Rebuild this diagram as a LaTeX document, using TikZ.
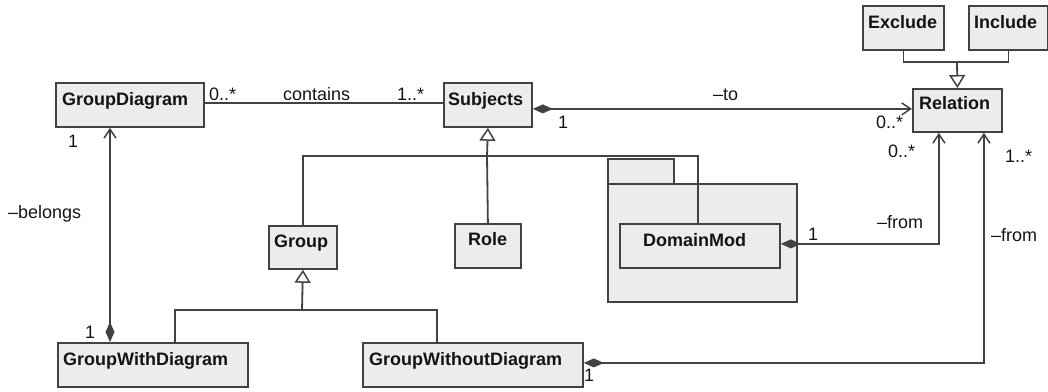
\documentclass[tikz,border=0pt]{standalone}
\usepackage{fontspec}
\setmainfont{Liberation Sans}
\usetikzlibrary{arrows.meta}
\definecolor{umlline}{RGB}{66,66,66}
\definecolor{umlfill}{RGB}{236,236,236}
\definecolor{umltext}{RGB}{20,20,20}
\begin{document}
\begin{tikzpicture}[x=1pt,y=-1pt,
  font=\fontsize{18}{20}\selectfont,
  box/.style={draw=umlline, fill=umlfill, line width=1.8pt, inner sep=0pt, anchor=north west},
  cname/.style={anchor=base west, inner sep=0pt, font=\fontsize{18}{20}\selectfont\bfseries, text=umltext},
  lbl/.style={anchor=base west, inner sep=0pt, text=umltext},
  conn/.style={draw=umlline, line width=1.8pt},
  generalize/.style={conn, -{Triangle[length=13pt,width=16pt,fill=white,line width=1.5pt]}},
  compose/.style={conn, {Diamond[length=20pt,width=9pt,fill=umlline]}-{Straight Barb[length=9pt,width=12pt,line width=1.5pt]}},
]
\useasboundingbox (0,0) rectangle (1048,391);

% package holding DomainMod
\node[box, minimum width=66pt, minimum height=25pt] (pkgtab) at (607,158) {};
\node[box, minimum width=189pt, minimum height=118pt] (pkg) at (607,183) {};

% classes
\node[box, minimum width=148pt, minimum height=44pt] (gd) at (55,82) {};
\node[cname] (gd-t) at (62,105) {GroupDiagram};
\node[box, minimum width=88pt, minimum height=44pt] (subj) at (443,82) {};
\node[cname] (subj-t) at (448,105) {Subjects};
\node[box, minimum width=89pt, minimum height=43pt] (rel) at (912,88) {};
\node[cname] (rel-t) at (919,109) {Relation};
\node[box, minimum width=81pt, minimum height=44pt] (excl) at (862,5) {};
\node[cname] (excl-t) at (868,28) {Exclude};
\node[box, minimum width=79pt, minimum height=44pt] (incl) at (968,5) {};
\node[cname] (incl-t) at (974,28) {Include};
\node[box, minimum width=68pt, minimum height=43pt] (grp) at (268,225) {};
\node[cname] (grp-t) at (274,247) {Group};
\node[box, minimum width=66pt, minimum height=44pt] (role) at (454,223) {};
\node[cname] (role-t) at (468,245) {Role};
\node[box, minimum width=160pt, minimum height=44pt] (dmod) at (619,223) {};
\node[cname] (dmod-t) at (643,246) {DomainMod};
\node[box, minimum width=190pt, minimum height=44pt] (gwd) at (57,342) {};
\node[cname] (gwd-t) at (63,365) {GroupWithDiagram};
\node[box, minimum width=220pt, minimum height=44pt] (gwod) at (362,342) {};
\node[cname] (gwod-t) at (369,365) {GroupWithoutDiagram};

% junction points of the generalization trees
\coordinate (ssplit) at (487,156);
\coordinate (gsplit) at (302,310);
\coordinate (rsplit) at (957,62);

% generalizations
\draw[conn] (grp.north) |- (ssplit) -| ([xshift=-2pt]dmod.north);
\draw[conn] (role.north) -- (ssplit);
\draw[generalize] (ssplit) -- (subj.south);
\draw[conn] ([xshift=118pt]gwd.north west) |- (gsplit) -| ([xshift=75pt]gwod.north west);
\draw[generalize] (gsplit) -- (grp.south);
\draw[conn] (excl.south) |- (rsplit) -| (incl.south);
\draw[generalize] (rsplit) -- (rel.north);

% associations
\draw[conn] ([yshift=2pt]gd.east) -- ([yshift=2pt]subj.west);
\draw[compose] ([yshift=-4pt]subj.east) -- ([yshift=-4pt]subj.east -| rel.west);
\draw[compose] ([xshift=53pt]gwd.north west) -- ([xshift=55pt]gd.south west);
\draw[compose] ([yshift=2pt]dmod.east) -| ([xshift=-18.5pt]rel.south);
\draw[compose] ([yshift=2pt]gwod.east) -| ([xshift=26.5pt]rel.south);

% association labels
\node[lbl] (l1) at (209,100) {0..*};
\node[lbl] (l2) at (283,100) {contains};
\node[lbl] (l3) at (397,100) {1..*};
\node[lbl] (l4) at (558,128) {1};
\node[lbl] (l5) at (713,100) {–to};
\node[lbl] (l6) at (876,128) {0..*};
\node[lbl] (l7) at (68,147) {1};
\node[lbl] (l8) at (8,218) {–belongs};
\node[lbl] (l9) at (85,338) {1};
\node[lbl] (l10) at (888,157) {0..*};
\node[lbl] (l11) at (877,228) {–from};
\node[lbl] (l12) at (808,240) {1};
\node[lbl] (l13) at (1005,162) {1..*};
\node[lbl] (l14) at (991,241) {–from};
\node[lbl] (l15) at (584,381) {1};
\end{tikzpicture}
\end{document}
